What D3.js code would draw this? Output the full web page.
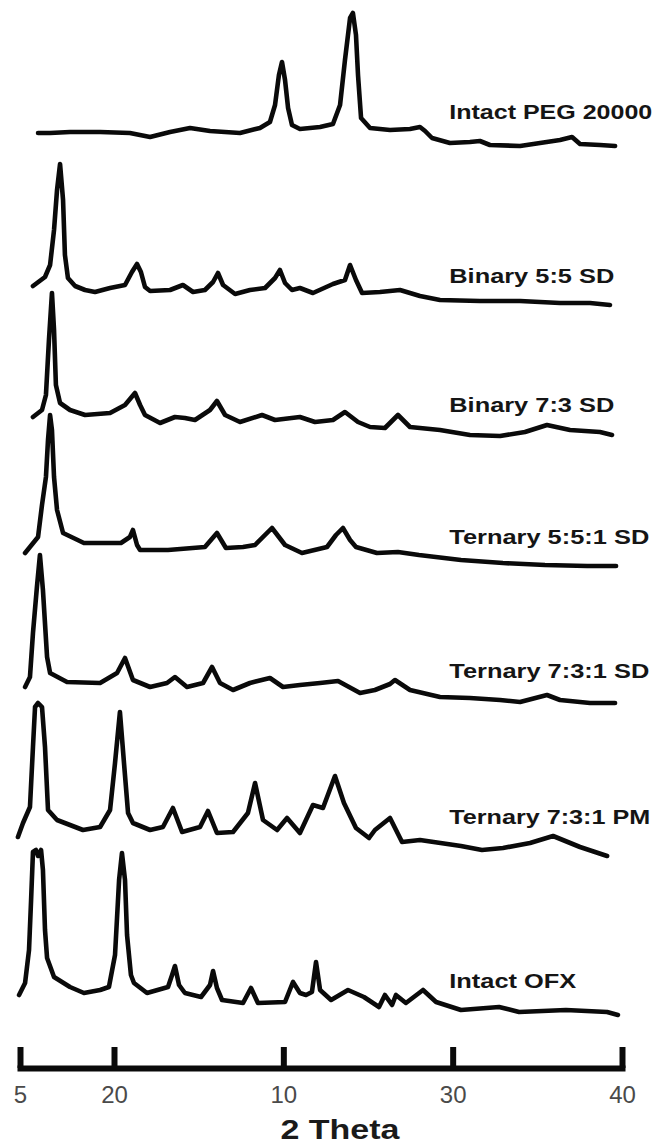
<!DOCTYPE html>
<html>
<head>
<meta charset="utf-8">
<script src="https://cdn.jsdelivr.net/npm/d3@7"></script>
<style>
  html, body { margin: 0; padding: 0; background: #fff; }
  svg { display: block; }
</style>
</head>
<body>
<svg id="chart" width="657" height="1146"></svg>
<script>
// ---- X-ray powder diffraction patterns, stacked (2θ, relative intensity) ----
const seriesNames = [
  "Intact PEG 20000",
  "Binary 5:5 SD",
  "Binary 7:3 SD",
  "Ternary 5:5:1 SD",
  "Ternary 7:3:1 SD",
  "Ternary 7:3:1 PM",
  "Intact OFX"
];

// vertical stacking offset of each pattern (intensity units)
const stackOffsets = [895, 735, 605, 475, 335, 185, 25];

const pegPattern = [
  [5.96,12],[6.60,12],[7.66,13],[9.26,13],[10.94,12],[12.13,8],[13.31,13],[14.49,17],
  [15.67,14],[17.44,12],[18.62,17],[19.21,23],[19.51,40],[19.74,70],[19.92,83],[20.10,65],
  [20.28,37],[20.51,20],[20.98,16],[22.17,18],[22.93,21],[23.35,40],[23.64,85],[23.94,127],
  [24.11,132],[24.29,110],[24.41,70],[24.59,27],[25.12,17],[26.30,15],[27.48,16],[28.07,18],
  [28.37,14],[28.78,7],[29.84,2],[31.02,3],[31.61,4],[32.20,0],[33.98,-1],[35.16,2],
  [36.34,5],[37.05,8],[37.52,1],[38.70,0],[39.59,-1]
];

const binary55Pattern = [
  [5.69,19],[6.33,28],[6.60,40],[6.81,75],[6.97,115],[7.13,141],[7.29,105],[7.39,50],
  [7.55,27],[7.93,19],[8.46,15],[8.99,13],[9.79,17],[10.65,20],[11.06,33],[11.36,41],
  [11.59,33],[11.83,18],[12.13,14],[13.31,15],[14.07,20],[14.67,13],[15.37,15],[15.85,23],
  [16.14,32],[16.44,20],[17.15,11],[18.03,15],[18.92,17],[19.51,27],[19.80,35],[20.10,22],
  [20.51,15],[20.98,17],[21.75,12],[22.93,21],[23.64,25],[23.94,40],[24.29,25],[24.65,12],
  [25.71,13],[26.89,15],[28.07,9],[29.25,5],[31.61,4],[33.98,4],[36.34,2],[38.11,2],[39.29,0]
];

const binary73Pattern = [
  [5.69,18],[6.17,25],[6.38,40],[6.54,95],[6.70,142],[6.81,105],[6.91,50],[7.13,32],
  [7.66,25],[8.46,20],[9.79,22],[10.65,30],[11.24,42],[11.54,30],[11.83,20],[12.72,12],
  [13.60,18],[14.19,17],[14.78,15],[15.67,25],[16.08,34],[16.56,20],[17.44,13],[18.74,20],
  [19.51,15],[20.98,18],[21.87,13],[22.93,15],[23.64,23],[24.41,13],[25.12,8],[26.00,7],
  [26.77,20],[27.48,8],[29.25,5],[31.02,0],[32.80,-1],[34.27,3],[35.57,10],[36.93,5],
  [38.70,3],[39.41,0]
];

const ternary551Pattern = [
  [5.27,12],[5.96,28],[6.17,60],[6.38,88],[6.49,125],[6.60,150],[6.70,135],[6.81,88],
  [6.97,55],[7.29,32],[8.40,22],[10.41,22],[10.94,28],[11.12,35],[11.36,20],[11.54,15],
  [13.19,15],[15.37,18],[16.08,32],[16.61,17],[17.62,18],[18.33,20],[19.33,37],[20.10,20],
  [21.10,12],[22.58,18],[23.11,30],[23.52,37],[23.94,25],[24.29,18],[25.53,12],[26.77,13],
  [28.01,10],[30.49,5],[32.97,2],[35.45,0],[37.94,-1],[39.65,-1]
];

const ternary731SdPattern = [
  [5.27,18],[5.53,28],[5.69,72],[5.90,118],[6.06,150],[6.22,115],[6.44,48],[6.60,32],
  [7.50,23],[9.26,22],[10.18,32],[10.65,47],[11.12,25],[12.13,18],[13.13,22],[13.60,28],
  [14.31,18],[15.26,22],[15.79,38],[16.26,22],[17.03,15],[18.03,22],[19.21,27],[19.98,18],
  [20.98,20],[22.17,22],[23.23,24],[24.53,12],[25.41,15],[26.30,21],[26.59,25],[27.48,15],
  [29.25,8],[31.02,7],[32.80,5],[33.98,3],[35.57,10],[36.34,5],[38.11,2],[39.59,2]
];

const ternary731PmPattern = [
  [4.89,18],[5.16,32],[5.53,48],[5.69,108],[5.80,148],[5.96,152],[6.17,148],[6.33,108],
  [6.49,45],[6.97,35],[8.35,25],[9.26,28],[9.79,45],[10.06,92],[10.35,143],[10.59,92],
  [10.83,42],[11.12,32],[12.13,25],[12.89,28],[13.48,47],[14.02,23],[15.08,28],[15.55,44],
  [16.08,22],[17.03,23],[17.91,42],[18.33,72],[18.80,35],[19.63,25],[20.22,37],[20.98,22],
  [21.75,50],[22.34,47],[23.05,79],[23.58,52],[24.29,27],[25.06,17],[25.41,25],[26.30,37],
  [27.01,13],[28.07,15],[30.49,9],[31.73,5],[32.97,7],[34.57,12],[35.93,19],[37.52,8],
  [39.12,-1]
];

const ofxPattern = [
  [4.95,20],[5.27,32],[5.48,65],[5.59,115],[5.69,163],[5.85,165],[5.96,159],[6.12,165],
  [6.22,145],[6.33,85],[6.44,57],[6.81,38],[7.66,28],[8.40,22],[9.26,25],[9.73,28],
  [10.06,60],[10.30,135],[10.47,162],[10.65,135],[10.77,80],[11.00,40],[11.18,32],[11.95,22],
  [13.19,28],[13.43,40],[13.60,49],[13.84,30],[14.19,22],[15.14,18],[15.67,30],[15.85,44],
  [16.08,27],[16.38,15],[17.62,12],[18.09,27],[18.50,12],[20.10,13],[20.57,33],[20.98,22],
  [21.34,20],[21.69,23],[21.93,53],[22.17,25],[22.82,15],[23.82,25],[24.76,18],[25.65,8],
  [26.00,20],[26.42,10],[26.65,20],[27.24,12],[28.25,25],[29.02,13],[30.49,5],[32.74,8],
  [33.92,3],[36.69,5],[39.12,3],[39.76,0]
];

const patterns = [pegPattern, binary55Pattern, binary73Pattern, ternary551Pattern,
                  ternary731SdPattern, ternary731PmPattern, ofxPattern];

// axis ticks and the text printed under them
const tickValues = [5, 10, 20, 30, 40];
const tickLabels = ["5", "20", "10", "30", "40"];
const axisTitle = "2 Theta";

// ---- layout ----
const labelTheta = 29.8;                       // label start, in 2θ
const labelLift = [26, 22, 23, 21, 27, 31, 27]; // label baseline above pattern baseline (px)
const labelWidths = [203, 165, 165, 200, 200, 201, 127];
const axisY = 1068;

const svg = d3.select("#chart");

const x = d3.scaleLinear().domain([5, 10, 40]).range([20, 114, 622]);
const y = d3.scaleLinear().domain([0, 1000]).range([1040, 40]);

// patterns
patterns.forEach((data, i) => {
  const off = stackOffsets[i];
  const line = d3.line()
    .x(d => x(d[0]))
    .y(d => y(off + d[1]))
    .curve(d3.curveLinear);
  svg.append("path")
    .datum(data)
    .attr("d", line)
    .attr("fill", "none")
    .attr("stroke", "#0a0a0a")
    .attr("stroke-width", 4.6)
    .attr("stroke-linejoin", "round")
    .attr("stroke-linecap", "round");
});

// pattern labels
svg.append("g")
  .selectAll("text")
  .data(seriesNames)
  .join("text")
  .attr("x", x(labelTheta))
  .attr("y", (d, i) => y(stackOffsets[i]) - labelLift[i])
  .attr("textLength", (d, i) => labelWidths[i])
  .attr("lengthAdjust", "spacingAndGlyphs")
  .attr("font-family", "'Liberation Sans', Arial, sans-serif")
  .attr("font-weight", "bold")
  .attr("font-size", 21)
  .attr("fill", "#151515")
  .text(d => d);

// x axis
const axis = d3.axisBottom(x)
  .tickValues(tickValues)
  .tickFormat((d, i) => tickLabels[i])
  .tickSizeInner(-21)
  .tickSizeOuter(0)
  .tickPadding(18);

const gAxis = svg.append("g")
  .attr("transform", `translate(0,${axisY})`)
  .call(axis);

gAxis.select(".domain")
  .attr("stroke", "#0a0a0a")
  .attr("stroke-width", 6)
  .attr("stroke-linecap", "square");
gAxis.selectAll(".tick line")
  .attr("stroke", "#0a0a0a")
  .attr("stroke-width", 6);
gAxis.selectAll(".tick text")
  .attr("font-family", "'Liberation Sans', Arial, sans-serif")
  .attr("font-size", 24)
  .attr("fill", "#4a4a4a");

svg.append("text")
  .attr("x", 340)
  .attr("y", 1139)
  .attr("text-anchor", "middle")
  .attr("textLength", 119)
  .attr("lengthAdjust", "spacingAndGlyphs")
  .attr("font-family", "'Liberation Sans', Arial, sans-serif")
  .attr("font-weight", "bold")
  .attr("font-size", 27)
  .attr("fill", "#1a1a1a")
  .text(axisTitle);
</script>
</body>
</html>
